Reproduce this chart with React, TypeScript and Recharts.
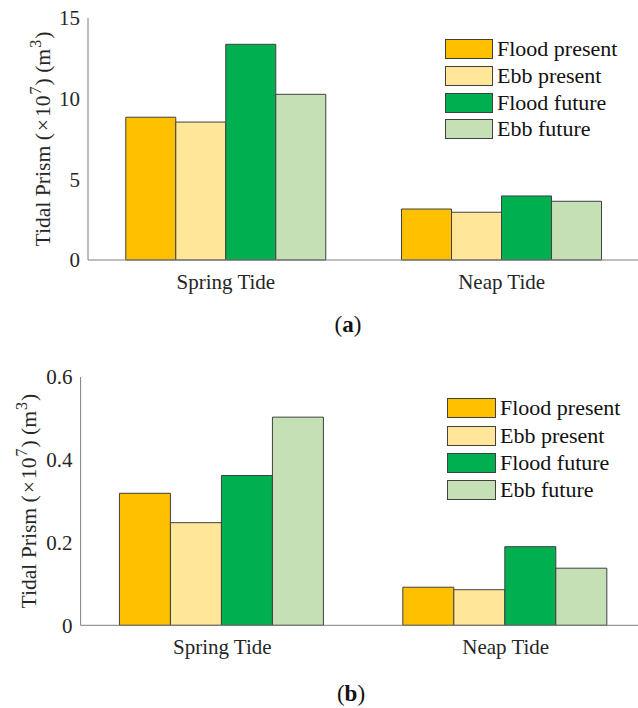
import { BarChart, Bar, XAxis, YAxis, Legend } from "recharts";

const categories = ["Spring Tide", "Neap Tide"];
const seriesNames = ["Flood present", "Ebb present", "Flood future", "Ebb future"];
const seriesColors = ["#FFC000", "#FFE699", "#00B050", "#C5E0B4"];

// panel (a)
const floodPresentA = [8.85, 3.16];
const ebbPresentA = [8.55, 2.96];
const floodFutureA = [13.37, 3.97];
const ebbFutureA = [10.27, 3.64];
const ticksA = [0, 5, 10, 15];

// panel (b)
const floodPresentB = [0.319, 0.092];
const ebbPresentB = [0.248, 0.086];
const floodFutureB = [0.362, 0.19];
const ebbFutureB = [0.503, 0.138];
const ticksB = [0, 0.2, 0.4, 0.6];

const FONT = "Liberation Serif";
const AXIS = "#7f7f7f";
const TEXT = "#262626";
const EDGE = "#404040";

function buildData(series: number[][]) {
  return categories.map((name, i) => ({
    name,
    s0: series[0][i],
    s1: series[1][i],
    s2: series[2][i],
    s3: series[3][i],
  }));
}

const dataA = buildData([floodPresentA, ebbPresentA, floodFutureA, ebbFutureA]);
const dataB = buildData([floodPresentB, ebbPresentB, floodFutureB, ebbFutureB]);

function YLabel(props: any) {
  const vb = props.viewBox || {};
  const cx = props.labelX;
  const cy = (vb.y ?? 18) + (vb.height ?? 242) / 2;
  return (
    <text
      x={cx}
      y={cy}
      transform={`rotate(-90, ${cx}, ${cy})`}
      textAnchor="middle"
      style={{ fontFamily: FONT }}
      fontSize={21.6}
      fill={TEXT}
    >
      Tidal Prism (
      <tspan dx={2}>×</tspan>
      <tspan dx={2}>10</tspan>
      <tspan dx={1} dy={-9} fontSize={16}>7</tspan>
      <tspan dx={1} dy={9}>) (m</tspan>
      <tspan dx={1} dy={-9} fontSize={16}>3</tspan>
      <tspan dx={1} dy={9}>)</tspan>
    </text>
  );
}

function LegendBox({ rowH, boxW }: { rowH: number; boxW: number }) {
  return (
    <div style={{ fontFamily: FONT, fontSize: 22, color: "#111" }}>
      {seriesNames.map((n, i) => (
        <div key={n} style={{ display: "flex", alignItems: "center", height: rowH }}>
          <div
            style={{
              width: boxW,
              height: 20,
              boxSizing: "border-box",
              background: seriesColors[i],
              border: `1px solid ${EDGE}`,
              marginRight: 4,
            }}
          />
          <span style={{ lineHeight: 1, whiteSpace: "nowrap" }}>{n}</span>
        </div>
      ))}
    </div>
  );
}

type PanelProps = {
  data: any[];
  ticks: number[];
  top: number;
  margin: { top: number; right: number; left: number; bottom: number };
  yWidth: number;
  labelX: number;
  legendLeft: number;
  legendTop: number;
  rowH: number;
  boxW: number;
};

function Panel(p: PanelProps) {
  const domain = [0, p.ticks[p.ticks.length - 1]];
  const tickStyle = { fontFamily: FONT, fontSize: 21, fill: TEXT, style: { fontFamily: FONT } };
  return (
    <div style={{ position: "absolute", left: 0, top: p.top, width: 638, height: 300, overflow: "hidden", fontFamily: FONT }}>
      <BarChart width={660} height={300} data={p.data} margin={p.margin} barGap={0} barCategoryGap="13.7%" style={{ fontFamily: FONT }}>
        <XAxis
          dataKey="name"
          tickLine={false}
          tickSize={0}
          tickMargin={14}
          axisLine={{ stroke: AXIS }}
          height={30}
          tick={tickStyle}
        />
        <XAxis
          xAxisId="top"
          orientation="top"
          mirror
          dataKey="name"
          tick={false}
          tickLine={{ stroke: AXIS }}
          tickSize={5}
          axisLine={{ stroke: AXIS }}
          height={0}
        />
        <YAxis
          domain={domain}
          ticks={p.ticks}
          interval={0}
          tickLine={false}
          tickSize={0}
          tickMargin={8}
          axisLine={{ stroke: AXIS }}
          width={p.yWidth}
          tick={tickStyle}
          label={{ content: (lp: any) => <YLabel {...lp} labelX={p.labelX} /> }}
        />
        <YAxis
          yAxisId="li"
          orientation="left"
          mirror
          domain={domain}
          ticks={p.ticks}
          interval={0}
          tick={false}
          tickLine={{ stroke: AXIS }}
          tickSize={5}
          axisLine={false}
          width={0}
        />
        <YAxis
          yAxisId="r"
          orientation="right"
          mirror
          domain={domain}
          ticks={p.ticks}
          interval={0}
          tick={false}
          tickLine={{ stroke: AXIS }}
          tickSize={5.5}
          axisLine={{ stroke: AXIS }}
          width={0}
        />
        <Legend
          layout="vertical"
          align="center"
          verticalAlign="middle"
          wrapperStyle={{ left: p.legendLeft, top: p.legendTop, width: 200, height: "auto" }}
          content={() => <LegendBox rowH={p.rowH} boxW={p.boxW} />}
        />
        {seriesNames.map((n, i) => (
          <Bar
            key={n}
            dataKey={`s${i}`}
            name={n}
            fill={seriesColors[i]}
            stroke={EDGE}
            strokeWidth={1}
            isAnimationActive={false}
          />
        ))}
      </BarChart>
    </div>
  );
}

export default function App() {
  const panelLabel = {
    position: "absolute" as const,
    width: 100,
    textAlign: "center" as const,
    fontFamily: FONT,
    fontSize: 23,
    lineHeight: "23px",
    color: "#111",
  };
  return (
    <div style={{ position: "absolute", left: 0, top: 0, width: 638, height: 708, background: "#fff", overflow: "hidden", fontFamily: FONT }}>
      <Panel
        data={dataA}
        ticks={ticksA}
        top={0}
        margin={{ top: 18, right: 20.5, left: 8, bottom: 10 }}
        yWidth={80}
        labelX={50}
        legendLeft={445}
        legendTop={36}
        rowH={26.67}
        boxW={48}
      />
      <div style={{ ...panelLabel, left: 298, top: 313 }}>
        (<b>a</b>)
      </div>
      <Panel
        data={dataB}
        ticks={ticksB}
        top={359}
        margin={{ top: 18, right: 12.6, left: 8, bottom: 3.7 }}
        yWidth={72.6}
        labelX={36}
        legendLeft={447}
        legendTop={35.7}
        rowH={27.3}
        boxW={49}
      />
      <div style={{ ...panelLabel, left: 301, top: 682 }}>
        (<b>b</b>)
      </div>
    </div>
  );
}
